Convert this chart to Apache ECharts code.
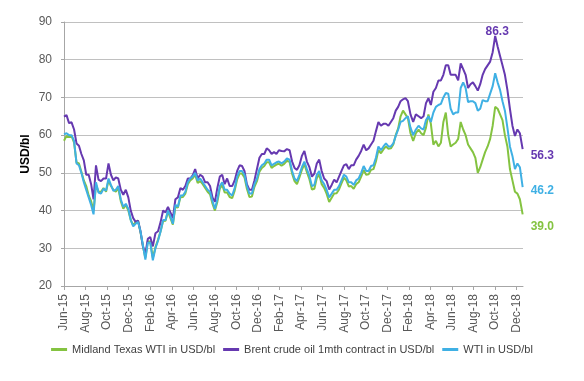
<!DOCTYPE html>
<html><head><meta charset="utf-8">
<script src="https://cdn.jsdelivr.net/npm/echarts@6/dist/echarts.min.js"></script>
<style>html,body{margin:0;padding:0;background:#fff}#c{width:584px;height:381px}</style>
</head><body><div id="c"></div>
<script>
// Weekly observations starting Monday 1 Jun 2015, last one on 18 Dec 2018
const startDate = '2015-06-01';
const stepDays = 7;
const lastDate = '2018-12-18';

const tickLabels = ['Jun-15','Aug-15','Oct-15','Dec-15','Feb-16','Apr-16','Jun-16','Aug-16','Oct-16','Dec-16',
  'Feb-17','Apr-17','Jun-17','Aug-17','Oct-17','Dec-17','Feb-18','Apr-18','Jun-18','Aug-18','Oct-18','Dec-18'];

const seriesNames = ['Midland Texas WTI in USD/bl', 'Brent crude oil 1mth contract in USD/bl', 'WTI in USD/bl'];

const midland = [
  58.5, 59.8, 59.5, 59.8, 58.0, 52.8, 52.5, 50.3, 48.0, 46.5, 44.0, 42.5, 40.0, 46.8, 45.0, 45.0, 46.0, 45.0, 48.0, 46.5, 45.5, 45.0, 46.0, 42.5, 40.5, 41.5, 40.0, 37.5, 36.0, 37.0, 37.3,
  34.2, 30.5, 27.5, 31.8, 31.8, 27.5, 30.3, 32.3, 34.6, 37.2, 37.3, 39.8, 38.0, 36.3, 41.0, 40.8, 43.5, 43.6, 44.5, 47.0, 48.0, 48.5, 49.5, 47.3, 47.8, 47.0, 46.0, 45.0, 44.3, 41.8, 40.0, 42.3, 45.8, 46.8, 44.8, 44.8, 43.6, 43.3, 45.3, 48.3, 49.8, 49.8, 48.8, 45.8, 43.6, 43.7, 46.3, 47.8, 50.3, 51.3, 51.8, 52.8,
  52.8, 51.3, 51.8, 52.2, 52.4, 51.9, 52.4, 53.2, 52.9, 49.8, 47.8, 47.0, 48.8, 50.8, 52.3, 50.2, 48.3, 45.6, 45.8, 48.6, 49.6, 47.0, 46.0, 44.4, 42.3, 43.4, 44.5, 44.6, 45.6, 47.2, 48.7, 48.0, 46.4, 46.5, 45.8, 47.0, 47.5, 49.0, 50.8, 49.5, 49.6, 50.8, 51.0, 53.0, 56.0, 55.2, 56.2, 57.0, 56.4, 56.5, 57.5, 60.0,
  61.8, 65.0, 66.5, 65.5, 64.5, 60.5, 58.5, 60.5, 61.5, 60.5, 60.0, 62.0, 65.5, 63.0, 57.5, 58.5, 57.0, 58.0, 63.5, 66.0, 60.0, 57.0, 57.5, 58.0, 59.0, 63.5, 61.5, 60.0, 57.5, 56.5, 55.5, 54.0, 50.0, 51.5, 53.5, 55.5, 57.0, 59.0, 62.5, 67.5, 67.0, 65.5, 64.0, 60.0, 57.0, 51.0, 48.0, 45.0, 44.5, 43.0, 39.0
];

const brent = [
  64.9, 65.3, 63.2, 63.4, 61.5, 57.8, 57.2, 55.0, 53.3, 49.5, 49.5, 47.0, 43.0, 52.0, 48.2, 47.8, 48.5, 48.5, 52.5, 49.5, 48.0, 48.8, 48.5, 45.5, 44.2, 45.5, 43.5, 40.0, 38.0, 37.0, 37.3,
  34.5, 30.5, 28.5, 32.5, 33.0, 30.5, 34.0, 34.5, 37.0, 40.0, 39.5, 41.0, 39.5, 38.0, 43.0, 43.5, 46.0, 45.5, 46.5, 48.5, 48.5, 49.3, 51.0, 48.5, 49.5, 49.0, 47.5, 47.5, 46.5, 43.5, 42.3, 46.0, 49.0, 49.5, 47.0, 48.5, 46.5, 46.5, 48.0, 50.5, 52.0, 51.8, 50.5, 47.0, 45.5, 45.5, 48.0, 51.0, 54.0, 55.0, 55.0, 56.5,
  56.0, 55.0, 55.5, 55.0, 56.0, 55.8, 55.7, 56.3, 56.0, 53.0, 51.3, 50.8, 52.0, 54.5, 55.8, 53.0, 51.5, 49.0, 49.8, 52.5, 53.5, 50.5, 48.5, 47.8, 45.6, 46.8, 48.2, 47.5, 49.0, 50.5, 52.0, 52.3, 51.0, 52.0, 52.0, 53.5, 54.5, 55.8, 57.5, 56.0, 56.5, 57.5, 58.5, 61.0, 63.5, 62.5, 63.0, 63.0, 62.5, 63.5, 64.5, 66.5,
  67.5, 69.0, 69.5, 69.8, 69.0, 65.5, 63.5, 65.5, 65.0, 64.5, 65.0, 68.5, 69.8, 68.0, 71.5, 72.5, 74.5, 74.5, 76.0, 78.5, 78.5, 76.0, 76.0, 76.0, 74.5, 79.0, 77.5, 76.0, 72.5, 73.5, 74.0, 73.0, 71.8, 73.5, 76.0, 77.5, 78.5, 79.5, 82.0, 86.3, 83.5, 81.0, 78.5, 76.0, 72.0, 67.0, 62.5, 59.8, 61.5, 60.5, 56.3
];

const wti = [
  60.2, 60.5, 60.0, 60.0, 58.5, 52.5, 52.0, 50.0, 47.5, 45.5, 43.5, 41.5, 39.0, 47.5, 44.8, 44.5, 45.8, 45.3, 48.5, 46.8, 45.2, 45.5, 46.5, 43.0, 41.0, 41.8, 40.5, 37.5, 35.8, 36.5, 37.0,
  34.5, 30.8, 27.0, 31.5, 31.5, 26.8, 30.0, 32.0, 34.5, 37.5, 37.5, 40.0, 38.5, 36.5, 41.5, 41.0, 44.0, 44.0, 45.0, 47.5, 48.5, 49.0, 50.0, 48.0, 48.5, 47.5, 46.5, 45.5, 45.0, 42.5, 40.5, 43.0, 46.5, 47.5, 45.5, 45.5, 44.5, 44.0, 46.0, 49.0, 50.5, 50.5, 49.5, 46.5, 44.5, 44.5, 47.0, 48.5, 51.0, 52.0, 52.5, 53.5,
  53.5, 52.0, 52.4, 52.8, 53.0, 52.5, 53.0, 53.8, 53.5, 50.5, 48.5, 47.8, 49.5, 51.5, 53.0, 51.0, 49.2, 46.5, 46.8, 49.5, 50.5, 48.0, 47.0, 45.5, 43.5, 44.5, 45.5, 45.5, 46.5, 48.0, 49.5, 49.0, 47.5, 47.5, 46.8, 48.0, 48.5, 50.0, 51.8, 50.5, 50.5, 51.8, 52.0, 54.0, 57.0, 56.0, 57.0, 57.8, 57.0, 57.0, 57.8, 59.8,
  61.5, 63.5, 63.8, 64.5, 65.0, 62.0, 60.0, 61.5, 62.5, 61.8, 61.5, 64.0, 65.0, 63.5, 66.0, 67.5, 68.0, 68.3, 70.0, 71.2, 71.0, 67.0, 65.5, 66.0, 66.0, 72.5, 74.0, 72.5, 68.8, 69.0, 69.0, 68.5, 66.5, 67.0, 69.3, 69.0, 69.0, 71.0, 73.0, 76.4, 74.0, 72.0, 69.0, 66.5, 62.0, 57.0, 54.5, 51.0, 52.5, 51.5, 46.2
];

// date -> months since 1 Jun 2015
function monthPos(d) {
  const y = d.getUTCFullYear(), m = d.getUTCMonth(), day = d.getUTCDate();
  const dim = new Date(Date.UTC(y, m + 1, 0)).getUTCDate();
  return (y - 2015) * 12 + (m - 5) + (day - 1) / dim;
}
const start = new Date(startDate + 'T00:00:00Z');
const n = brent.length;
const xs = [];
for (let i = 0; i < n; i++) {
  const d = (i === n - 1) ? new Date(lastDate + 'T00:00:00Z') : new Date(start.getTime() + i * stepDays * 86400000);
  xs.push(monthPos(d));
}
const xMax = monthPos(new Date(lastDate + 'T00:00:00Z')) + 1 / 31;

const colors = ['#84c341', '#6639b0', '#3fb0e4'];
const FONT = "'Liberation Sans', Arial, sans-serif";

function mk(name, arr, color, off, extra) {
  return Object.assign({
    name, type: 'line', symbol: 'none', showSymbol: false,
    data: arr.map((v, i) => [xs[i], v]),
    lineStyle: { width: 2, color }, itemStyle: { color },
    endLabel: { show: true, formatter: p => p.value[1].toFixed(1), color, fontSize: 12, fontWeight: 'bold',
      fontFamily: FONT, offset: off, distance: 5 },
    animation: false
  }, extra || {});
}

const chart = echarts.init(document.getElementById('c'), null, { renderer: 'canvas' });
chart.setOption({
  animation: false,
  backgroundColor: '#fff',
  grid: { left: 64, right: 61, top: 22, bottom: 95, containLabel: false },
  legend: {
    data: seriesNames, left: 'center', top: 339, width: 580, itemWidth: 16, itemHeight: 3, itemGap: 8, icon: 'rect',
    textStyle: { fontSize: 11, color: '#404040', fontFamily: FONT }
  },
  xAxis: {
    type: 'value', min: 0, max: xMax, interval: 2,
    axisLine: { show: true, lineStyle: { color: '#a6a6a6' } },
    axisTick: { show: true, length: 4, lineStyle: { color: '#a6a6a6' } },
    splitLine: { show: false },
    axisLabel: { rotate: 90, margin: 8, color: '#595959', fontSize: 12, fontFamily: FONT, showMaxLabel: false,
      formatter: v => { const k = Math.round(v / 2); return (Math.abs(v - k * 2) < 1e-6 && tickLabels[k]) ? tickLabels[k] : ''; } }
  },
  yAxis: {
    type: 'value', min: 20, max: 90, interval: 10,
    name: 'USD/bl', nameLocation: 'middle', nameGap: 32, nameMoveOverlap: false,
    nameTextStyle: { fontSize: 12, fontWeight: 'bold', color: '#000', fontFamily: FONT },
    axisLine: { show: true, lineStyle: { color: '#a6a6a6' } },
    axisTick: { show: true, length: 3, lineStyle: { color: '#a6a6a6' } },
    splitLine: { show: true, lineStyle: { color: '#c0c0c0', width: 1 } },
    axisLabel: { color: '#595959', fontSize: 12, margin: 12, fontFamily: FONT }
  },
  series: [
    mk(seriesNames[0], midland, colors[0], [3, 12]),
    mk(seriesNames[1], brent, colors[1], [3, 7], {
      markPoint: {
        symbol: 'circle', symbolSize: 1, itemStyle: { color: 'rgba(0,0,0,0)' },
        data: [{ type: 'max', valueDim: 'y' }],
        label: { show: true, position: 'top', distance: 1, offset: [2, 3], color: colors[1], fontSize: 12, fontWeight: 'bold', fontFamily: FONT,
          formatter: p => Number(p.value).toFixed(1) }
      }
    }),
    mk(seriesNames[2], wti, colors[2], [3, 3])
  ]
});
</script></body></html>
